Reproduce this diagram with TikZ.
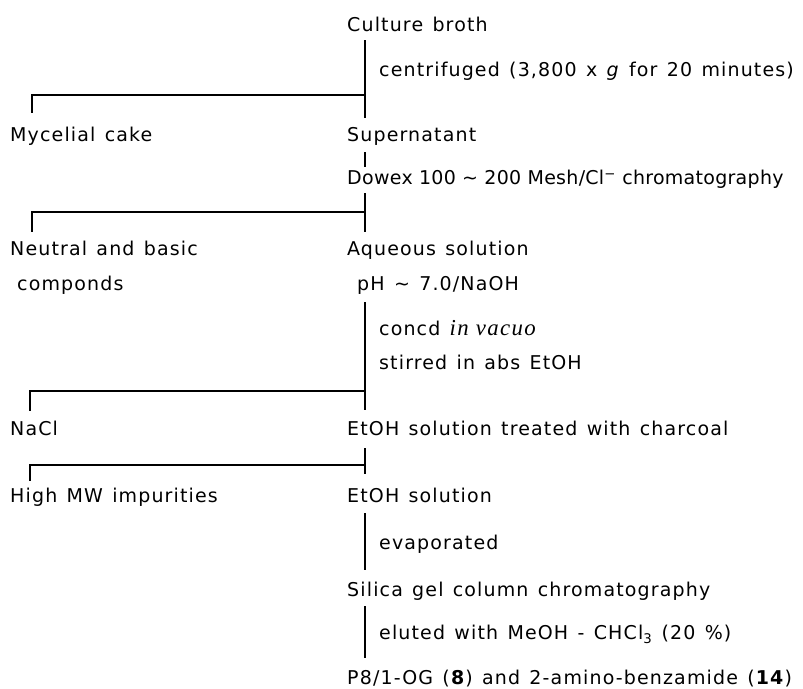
\documentclass[tikz,border=0pt]{standalone}
\usepackage{fontspec}
\setmainfont{DejaVu Sans}[LetterSpace=6,WordSpace=1.3]
\newfontfamily\serifit{Liberation Serif}[LetterSpace=6,Scale=1.2]
\newfontfamily\dowfont{DejaVu Sans}[LetterSpace=1.5]
\begin{document}
\begin{tikzpicture}[x=1pt,y=-1pt,
  lbl/.style={anchor=base west,inner sep=0pt,text height=13pt,text depth=4pt,
    font=\fontsize{19pt}{23pt}\selectfont},
  conn/.style={line width=1.3pt}]
\useasboundingbox (0,0) rectangle (803,688);
\coordinate (spx) at (365,0);
% main column
\node[lbl] (cb)   at (347,31.5)  {Culture broth};
\node[lbl] (cent) at (379,76.5)  {centrifuged (3,800 x \textit{g} for 20 minutes)};
\node[lbl] (sup)  at (347,141.5) {Supernatant};
\node[lbl] (dow)  at (347,184.5) {\dowfont Dowex 100 \textasciitilde\ 200 Mesh/Cl\textsuperscript{−} chromatography};
\node[lbl] (aq)   at (347,255.5) {Aqueous solution};
\node[lbl] (ph)   at (357,290.5) {pH \textasciitilde\ 7.0/NaOH};
\node[lbl] (conc) at (379,335.5) {concd {\serifit\itshape in vacuo}};
\node[lbl] (stir) at (379,369.5) {stirred in abs EtOH};
\node[lbl] (ett)  at (347,435.5) {EtOH solution treated with charcoal};
\node[lbl] (eto)  at (347,502.5) {EtOH solution};
\node[lbl] (evap) at (379,549.5) {evaporated};
\node[lbl] (sil)  at (347,596.5) {Silica gel column chromatography};
\node[lbl] (elut) at (379,639.5) {eluted with MeOH - CHCl\textsubscript{3} (20 \%)};
\node[lbl] (prod) at (347,684.5) {P8/1-OG (\textbf{8}) and 2-amino-benzamide (\textbf{14})};
% side products
\node[lbl] (myc)  at (10,141.5)  {Mycelial cake};
\node[lbl] (neu)  at (10,255.5)  {Neutral and basic};
\node[lbl] (comp) at (17,290.5)  {componds};
\node[lbl] (nacl) at (10,435.5)  {NaCl};
\node[lbl] (hmw)  at (10,502.5)  {High MW impurities};
% spine segments
\draw[conn,shorten <=4.5pt,shorten >=10.5pt] (cb.south -| spx) -- (sup.north -| spx);
\draw[conn,shorten <=6.5pt,shorten >=4.5pt] (sup.south -| spx) -- (dow.north -| spx);
\draw[conn,shorten <=4.5pt,shorten >=10.5pt] (dow.south -| spx) -- (aq.north -| spx);
\draw[conn,shorten <=7.5pt,shorten >=12.5pt] (ph.south -| spx) -- (ett.north -| spx);
\draw[conn,shorten <=8.5pt,shorten >=15.5pt] (ett.south -| spx) -- (eto.north -| spx);
\draw[conn,shorten <=6.5pt,shorten >=13.5pt] (eto.south -| spx) -- (sil.north -| spx);
\draw[conn,shorten <=5.5pt,shorten >=13.5pt] (sil.south -| spx) -- (prod.north -| spx);
% branch brackets
\coordinate (j1) at (365,95);  \coordinate (t1) at (32,113);
\coordinate (j2) at (365,212); \coordinate (t2) at (32,232);
\coordinate (j3) at (365,391); \coordinate (t3) at (30,411);
\coordinate (j4) at (365,465); \coordinate (t4) at (30,481);
\draw[conn] (j1) -| (t1);
\draw[conn] (j2) -| (t2);
\draw[conn] (j3) -| (t3);
\draw[conn] (j4) -| (t4);
\end{tikzpicture}
\end{document}
